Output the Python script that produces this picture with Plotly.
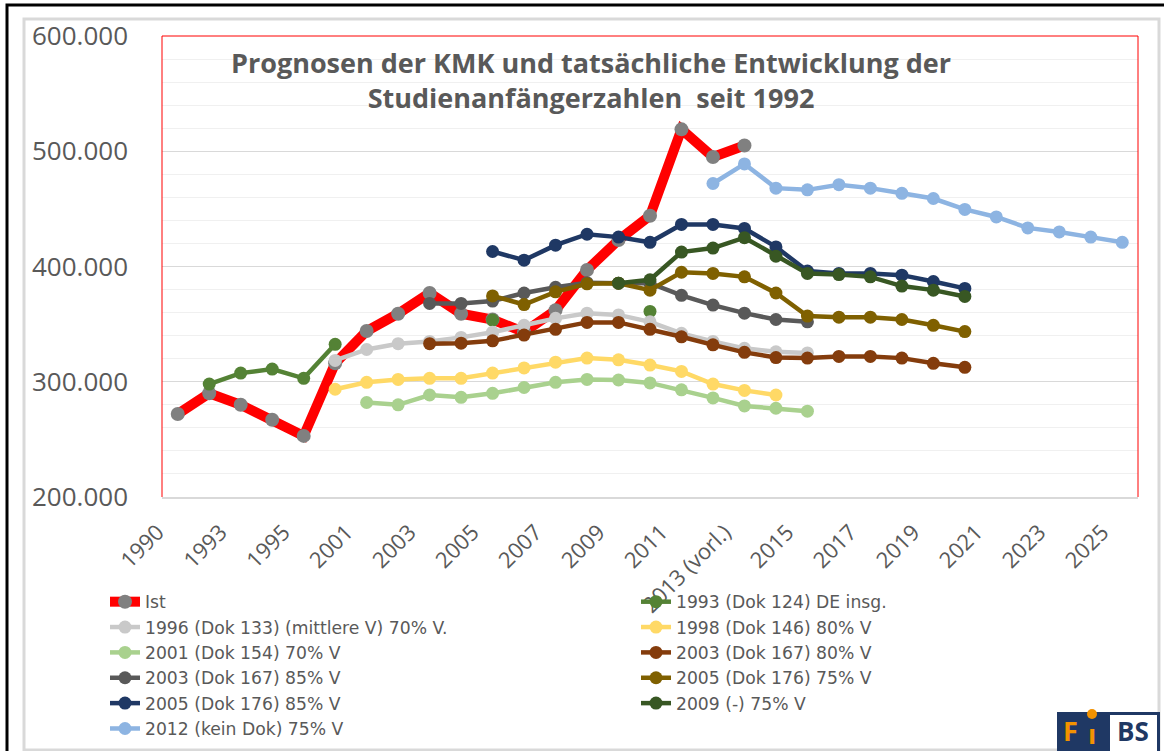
import plotly.graph_objects as go

categories = ["1990", "1992", "1993", "1994", "1995", "2000", "2001", "2002", "2003", "2004",
              "2005", "2006", "2007", "2008", "2009", "2010", "2011", "2012", "2013 (vorl.)", "2014",
              "2015", "2016", "2017", "2018", "2019", "2020", "2021", "2022", "2023", "2024", "2025"]
tick_labels = ["1990", "1993", "1995", "2001", "2003", "2005", "2007", "2009", "2011",
               "2013 (vorl.)", "2015", "2017", "2019", "2021", "2023", "2025"]

N = None
ist = [272000, 290000, 280000, 267000, 253000, 316000, 344000, 359000, 377000, 359000,
       354000, 343000, 362000, 397000, 423000, 444000, 519000, 495000, 505000] + [N] * 12
p1993 = [N, 298000, 307500, 311000, 303000, 332500, N, N, N, N,
         353500, N, N, N, N, 361000] + [N] * 15
p1996 = [N] * 5 + [318500, 328000, 333000, 335000, 338500, 343000, 349000, 355000, 359500, 358000,
                   352000, 342000, 335000, 329000, 326000, 325000] + [N] * 10
p1998 = [N] * 5 + [293500, 299500, 302000, 303000, 303000, 307500, 312000, 317000, 320500, 319000,
                   314500, 309000, 298000, 292500, 288500] + [N] * 11
p2001 = [N] * 6 + [282000, 280000, 288500, 286500, 290000, 295000, 299500, 302000, 301500,
                   299000, 293000, 286000, 279000, 277000, 274500] + [N] * 10
p2003_80 = [N] * 8 + [333000, 333500, 335500, 340500, 345500, 351500, 351500, 345500, 339000, 332000,
                      325500, 321000, 320500, 322000, 322000, 320500, 316000, 312500] + [N] * 5
p2003_85 = [N] * 8 + [368000, 368000, 370000, 377000, 382000, 386000, 385500, 385500, 375000, 366500,
                      359500, 354000, 352000] + [N] * 10
p2005_75 = [N] * 10 + [374500, 367000, 378000, 385000, 385500, 379500, 395000, 394000, 391000, 377000,
                       357000, 356000, 356000, 354000, 349000, 343500] + [N] * 5
p2005_85 = [N] * 10 + [413000, 405500, 418500, 428000, 425500, 421000, 436500, 436500, 433000, 417000,
                       396000, 394000, 394000, 392500, 387000, 381000] + [N] * 5
p2009 = [N] * 14 + [385500, 388500, 412500, 416000, 425000, 409000, 394000, 393000, 391000, 383000,
                    379500, 374000] + [N] * 5
p2012 = [N] * 17 + [472000, 489000, 468000, 466500, 471000, 468000, 463500, 459000, 449500, 443000,
                    433500, 430000, 425500, 421000]

series = [
    ("Ist", ist, "#FF0000", "#808080", 10, 14),
    ("1993 (Dok 124) DE insg.", p1993, "#548235", "#548235", 4.5, 13),
    ("1996 (Dok 133) (mittlere V) 70% V.", p1996, "#C9C9C9", "#C9C9C9", 4.5, 13),
    ("1998 (Dok 146) 80% V", p1998, "#FFD966", "#FFD966", 4.5, 13),
    ("2001 (Dok 154) 70% V", p2001, "#A9D18E", "#A9D18E", 4.5, 13),
    ("2003 (Dok 167) 80% V", p2003_80, "#843C0C", "#843C0C", 4.5, 13),
    ("2003 (Dok 167) 85% V", p2003_85, "#595959", "#595959", 4.5, 13),
    ("2005 (Dok 176) 75% V", p2005_75, "#7F6000", "#7F6000", 4.5, 13),
    ("2005 (Dok 176) 85% V", p2005_85, "#1F3864", "#1F3864", 4.5, 13),
    ("2009 (-) 75% V", p2009, "#385723", "#385723", 4.5, 13),
    ("2012 (kein Dok) 75% V", p2012, "#8DB4E2", "#8DB4E2", 4.5, 13),
]

fig = go.Figure()
for name, vals, lc, mc, lw, ms in series:
    fig.add_trace(go.Scatter(
        x=categories, y=vals, name=name, mode="lines+markers",
        line=dict(color=lc, width=lw), marker=dict(color=mc, size=ms),
        connectgaps=False, hoverinfo="x+y+name"))

W, H = 1164, 751
L, R, T, B = 162, 26, 36, 254
pw, ph = W - L - R, H - T - B


def px(x):
    return (x - L) / pw


def py(y):
    return (H - B - y) / ph


txt = "#595959"
shapes = [
    dict(type="rect", xref="paper", yref="paper", x0=px(7), x1=px(1175), y0=py(5), y1=py(765),
         line=dict(color="black", width=3), layer="below"),
    dict(type="rect", xref="paper", yref="paper", x0=px(24), x1=px(1159), y0=py(19), y1=py(750),
         line=dict(color="#D9D9D9", width=3), layer="below"),
    dict(type="line", xref="paper", yref="paper", x0=0, x1=0, y0=0, y1=1, line=dict(color="#FF0000", width=1)),
    dict(type="line", xref="paper", yref="paper", x0=0, x1=1, y0=1, y1=1, line=dict(color="#FF0000", width=1)),
    dict(type="line", xref="paper", yref="paper", x0=1, x1=1, y0=0, y1=1, line=dict(color="#FF0000", width=1)),
    # logo
    dict(type="rect", xref="paper", yref="paper", x0=px(1057), x1=px(1160), y0=py(712), y1=py(760),
         line=dict(color="#1F3864", width=0), fillcolor="#1F3864", layer="above"),
    dict(type="rect", xref="paper", yref="paper", x0=px(1110), x1=px(1157), y0=py(715), y1=py(760),
         line=dict(color="#1F3864", width=0), fillcolor="white", layer="above"),
    dict(type="circle", xref="paper", yref="paper", x0=px(1087), x1=px(1097), y0=py(709), y1=py(719),
         line=dict(width=0), fillcolor="#F39200", layer="above"),
]

annotations = [
    dict(xref="paper", yref="paper", x=px(1061), y=py(731), xanchor="left", yanchor="middle",
         text="<b>F</b>", showarrow=False, font=dict(family="Open Sans", size=27, color="#F39200")),
    dict(xref="paper", yref="paper", x=px(1092), y=py(733), xanchor="center", yanchor="middle",
         text="<b>ı</b>", showarrow=False, font=dict(family="Open Sans", size=27, color="#F39200")),
    dict(xref="paper", yref="paper", x=px(1133), y=py(731), xanchor="center", yanchor="middle",
         text="<b>BS</b>", showarrow=False, font=dict(family="Open Sans", size=26, color="#1F3864")),
]

fig.update_layout(
    width=W, height=H,
    margin=dict(l=L, r=R, t=T, b=B, autoexpand=False),
    paper_bgcolor="white", plot_bgcolor="white",
    separators=",.",
    font=dict(family="Open Sans", color=txt),
    title=dict(text="<b>Prognosen der KMK und tatsächliche Entwicklung der<br>Studienanfängerzahlen  seit 1992</b>",
               x=591 / W, xanchor="center", xref="container",
               y=1 - 73 / H, yanchor="middle", yref="container",
               font=dict(family="Open Sans", size=27, color=txt)),
    showlegend=True,
    legend=dict(orientation="h", x=px(105), y=py(584), xanchor="left", yanchor="top",
                entrywidth=486, entrywidthmode="pixels", traceorder="normal",
                font=dict(family="DejaVu Sans", size=17.2, color=txt),
                bgcolor="rgba(0,0,0,0)", itemclick=False),
    shapes=shapes,
    annotations=annotations,
)

fig.update_xaxes(
    type="category", categoryorder="array", categoryarray=categories,
    range=[-0.5, len(categories) - 0.5],
    tickmode="array", tickvals=tick_labels, ticktext=tick_labels,
    tickangle=-45, tickfont=dict(family="Open Sans", size=22, color=txt),
    ticklabelshift=-20, ticklabelstandoff=12,
    showgrid=False, showline=True, linecolor="#D9D9D9", linewidth=1.5,
    ticks="", automargin=False, zeroline=False)

fig.update_yaxes(
    range=[200000, 600000], dtick=100000, tick0=0, tickformat=",.0f",
    tickfont=dict(family="Open Sans", size=26, color=txt),
    showgrid=True, gridcolor="#D9D9D9", gridwidth=1,
    minor=dict(dtick=20000, showgrid=True, gridcolor="#F0F0F0", gridwidth=1),
    showline=False, zeroline=False, ticks="", ticklabelstandoff=33, automargin=False)

fig.write_html("out.html", config={"displayModeBar": False},
               post_script="document.body.style.margin='0px';")
